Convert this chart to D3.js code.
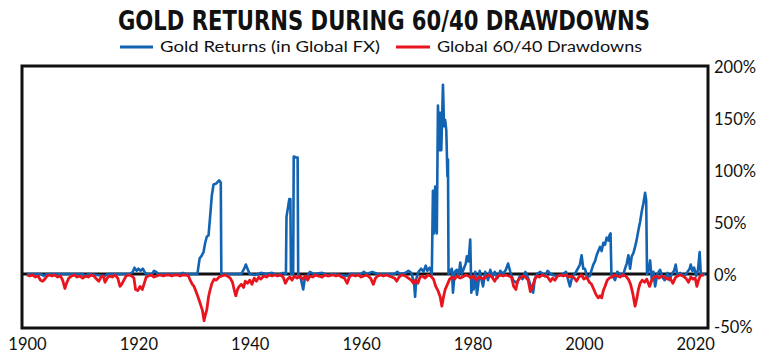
<!DOCTYPE html>
<html>
<head>
<meta charset="utf-8">
<script src="https://cdn.jsdelivr.net/npm/d3@7"></script>
<style>
  html, body { margin: 0; padding: 0; background: #fff; }
  svg { display: block; }
</style>
</head>
<body>
<svg id="chart" width="758" height="353"></svg>
<script>
// ---------- DATA ----------
const title = "GOLD RETURNS DURING 60/40 DRAWDOWNS";
const seriesNames = ["Gold Returns (in Global FX)", "Global 60/40 Drawdowns"];
const xTickYears = [1900, 1920, 1940, 1960, 1980, 2000, 2020];
const yTickValues = [-50, 0, 50, 100, 150, 200];

const goldDates = [
  1900.0,1902.5,1903.0,1903.5,1910.0,1910.5,1911.0,1914.0,1914.5,1918.5,
  1919.0,1919.3,1919.7,1920.0,1920.4,1920.8,1921.2,1921.5,1922.5,1922.8,
  1923.2,1923.5,1927.5,1928.0,1928.5,1930.6,1931.0,1931.3,1931.7,1932.0,
  1932.3,1932.6,1932.9,1933.2,1933.5,1934.0,1934.5,1934.8,1934.9,1938.5,
  1939.0,1939.3,1939.6,1940.0,1941.0,1942.0,1943.0,1944.0,1945.0,1946.0,
  1946.5,1946.6,1946.9,1947.1,1947.3,1947.4,1947.8,1947.9,1948.3,1948.6,
  1948.7,1949.2,1949.6,1949.9,1950.3,1950.8,1951.5,1953.0,1954.0,1955.0,
  1957.5,1958.0,1960.0,1960.5,1961.0,1962.0,1963.0,1966.0,1966.5,1967.0,
  1968.0,1968.5,1969.0,1969.5,1969.7,1969.9,1970.3,1970.8,1971.2,1971.6,
  1971.9,1972.3,1972.7,1972.9,1973.1,1973.3,1973.6,1973.8,1974.1,1974.2,
  1974.4,1974.7,1974.9,1975.1,1975.3,1975.5,1975.6,1975.7,1976.0,1976.3,
  1976.5,1976.8,1977.2,1977.5,1977.8,1978.1,1978.5,1978.8,1979.0,1979.3,
  1979.6,1979.8,1980.0,1980.2,1980.5,1980.8,1981.0,1981.3,1981.6,1981.9,
  1982.3,1982.8,1983.2,1983.6,1984.0,1984.5,1985.0,1985.5,1986.0,1986.4,
  1986.8,1987.3,1988.0,1988.5,1989.0,1989.5,1990.0,1990.5,1990.9,1991.2,
  1991.6,1992.2,1993.0,1993.5,1994.0,1995.0,1996.0,1996.8,1997.5,1997.9,
  1998.5,1999.3,1999.6,1999.9,2000.2,2000.6,2001.1,2001.4,2001.7,2002.0,
  2002.3,2002.6,2002.9,2003.2,2003.5,2003.8,2004.1,2004.4,2004.6,2004.8,
  2004.95,2005.6,2006.0,2006.5,2007.0,2007.4,2007.7,2008.0,2008.3,2008.6,
  2008.9,2009.2,2009.5,2009.8,2010.1,2010.4,2010.7,2011.0,2011.2,2011.35,
  2011.7,2011.9,2012.2,2012.5,2012.8,2013.2,2013.7,2014.1,2014.5,2015.0,
  2015.4,2015.8,2016.2,2016.5,2016.8,2017.3,2018.0,2018.5,2019.0,2019.2,
  2019.5,2019.8,2020.2,2020.5,2020.8,2021.0,2021.8
];
const goldReturns = [
  0,0,-2,0,0,-2,0,-2,0,0,
  2,6,3,5,3,5,1,0,0,3,
  2,0,0,1,0,0,15,17,21,30,
  36,37,56,76,86,87,90,88,0,0,
  5,9,5,0,-1,1,0,1,-1,1,
  0,55,65,72,72,0,0,113,112,112,
  0,-5,-15,-4,-2,2,0,1,-1,0,
  -2,0,0,2,0,2,0,0,2,0,
  1,3,1,-8,-22,-5,2,5,2,8,
  3,6,0,80,39,84,39,162,119,155,
  119,182,142,148,138,94,110,0,3,5,
  -18,2,4,-3,11,0,6,10,17,12,
  33,-18,-5,-15,2,-20,-12,3,-5,-12,
  2,-6,4,-3,2,-4,3,0,4,10,
  2,-6,-9,-2,-5,2,-4,-12,-18,-5,
  0,2,-2,3,0,-2,-1,2,-12,-3,
  1,9,18,5,5,-3,-2,4,9,12,
  18,22,26,22,30,28,35,32,37,39,
  0,-6,2,0,-2,5,10,18,5,17,
  20,26,33,42,50,60,68,78,71,0,
  5,13,-6,2,-12,0,4,-3,-6,1,
  -6,0,3,9,-2,1,-2,1,5,9,
  3,6,-2,4,21,0,0
];

const ddDates = [
  1900.0,1900.5,1901.0,1901.5,1902.0,1902.4,1902.8,1903.2,1903.6,1904.0,
  1904.5,1905.0,1905.5,1906.0,1906.4,1906.8,1907.1,1907.5,1908.0,1908.5,
  1909.0,1909.5,1910.0,1910.5,1911.0,1911.5,1912.0,1912.5,1912.9,1913.3,
  1913.7,1914.0,1914.4,1914.8,1915.3,1915.8,1916.3,1916.7,1917.0,1917.4,
  1917.8,1918.3,1918.8,1919.2,1919.5,1919.9,1920.3,1920.7,1921.0,1921.4,
  1921.8,1922.3,1922.8,1923.3,1923.8,1924.5,1925.0,1925.5,1926.0,1926.5,
  1927.0,1927.5,1928.0,1928.5,1929.0,1929.3,1929.7,1930.0,1930.5,1930.9,
  1931.2,1931.5,1931.8,1932.0,1932.3,1932.6,1932.9,1933.2,1933.6,1934.0,
  1934.5,1935.0,1935.5,1936.0,1936.5,1936.9,1937.2,1937.5,1937.8,1938.1,
  1938.5,1938.9,1939.2,1939.6,1940.0,1940.4,1940.8,1941.2,1941.6,1942.0,
  1942.5,1943.0,1943.5,1944.0,1944.5,1945.0,1945.5,1946.0,1946.4,1946.8,
  1947.2,1947.6,1948.0,1948.5,1949.0,1949.5,1950.0,1950.4,1950.8,1951.3,
  1951.8,1952.3,1953.0,1953.5,1954.0,1955.0,1955.5,1956.0,1956.5,1957.0,
  1957.5,1957.9,1958.3,1959.0,1959.5,1960.0,1960.5,1961.0,1961.7,1962.2,
  1962.6,1963.0,1963.5,1964.0,1964.5,1965.0,1965.5,1966.0,1966.4,1966.8,
  1967.3,1968.0,1968.5,1969.0,1969.4,1969.8,1970.2,1970.6,1971.0,1971.5,
  1972.0,1972.5,1973.0,1973.4,1973.8,1974.2,1974.5,1974.8,1975.1,1975.5,
  1975.9,1976.3,1976.8,1977.2,1977.8,1978.2,1978.8,1979.3,1979.7,1980.2,
  1980.7,1981.1,1981.6,1982.0,1982.5,1983.0,1983.5,1984.0,1984.4,1985.0,
  1985.5,1986.0,1986.5,1987.0,1987.4,1987.8,1988.1,1988.5,1989.0,1989.5,
  1990.0,1990.4,1990.8,1991.2,1991.6,1992.0,1992.5,1993.0,1993.5,1994.0,
  1994.4,1994.8,1995.3,1995.8,1996.3,1996.8,1997.3,1997.8,1998.3,1998.7,
  1999.1,1999.6,2000.0,2000.5,2001.0,2001.4,2001.8,2002.2,2002.6,2002.9,
  2003.2,2003.5,2003.8,2004.2,2004.6,2005.0,2005.5,2006.0,2006.5,2007.0,
  2007.5,2008.0,2008.4,2008.8,2009.2,2009.5,2009.8,2010.1,2010.5,2010.9,
  2011.3,2011.8,2012.2,2012.6,2013.0,2013.5,2014.0,2014.5,2015.0,2015.5,
  2016.0,2016.4,2016.8,2017.3,2017.8,2018.3,2018.8,2019.2,2019.6,2020.0,
  2020.3,2020.6,2020.9,2021.3,2021.6
];
const ddValues = [
  -1,-2,-1,-3,-2,-6,-7,-5,-2,-1,
  -2,-1,-3,-2,-6,-14,-9,-4,-2,-1,
  -3,-2,-4,-2,-3,-1,-2,-5,-7,-3,
  -2,-8,-4,-2,-3,-1,-4,-12,-10,-6,
  -2,-1,-2,-4,-15,-16,-12,-15,-10,-3,
  -2,-1,-3,-2,-1,-2,-1,-1,-2,-1,
  -1,-2,-1,-1,-2,-6,-10,-12,-19,-25,
  -30,-35,-45,-40,-34,-22,-15,-9,-5,-6,
  -3,-2,-1,-2,-4,-8,-15,-21,-15,-12,
  -10,-13,-7,-9,-6,-10,-4,-7,-3,-5,
  -2,-3,-1,-2,-1,-2,-1,-3,-9,-5,
  -3,-6,-2,-4,-2,-5,-2,-6,-2,-3,
  -1,-2,-3,-1,-2,-1,-2,-1,-3,-4,
  -9,-3,-1,-2,-1,-3,-2,-1,-4,-10,
  -4,-2,-1,-2,-1,-2,-3,-4,-7,-3,
  -1,-2,-4,-6,-9,-6,-9,-3,-2,-4,
  -1,-2,-5,-12,-16,-22,-31,-22,-15,-10,
  -5,-3,-5,-2,-4,-3,-1,-2,-4,-2,
  -6,-3,-4,-5,-2,-1,-3,-7,-3,-1,
  -2,-1,-2,-3,-12,-15,-7,-4,-2,-3,
  -6,-17,-12,-5,-2,-3,-1,-2,-3,-7,
  -4,-6,-2,-1,-2,-1,-3,-2,-4,-7,
  -3,-1,-5,-3,-8,-10,-15,-20,-23,-21,
  -23,-16,-12,-6,-4,-3,-1,-2,-3,-1,
  -2,-5,-10,-19,-31,-24,-15,-9,-6,-8,
  -5,-12,-6,-3,-2,-4,-2,-3,-5,-4,
  -9,-4,-2,-1,-2,-4,-8,-3,-5,-4,
  -12,-6,-2,-1,-1
];

// ---------- CHART ----------
const svg = d3.select("#chart");
const plotLeft = 22, plotRight = 708, plotTop = 66, plotBottom = 328;

const x = d3.scaleLinear().domain([1899.1, 2022.3]).range([plotLeft, plotRight]);
const y = d3.scaleLinear().domain([-52, 200]).range([plotBottom, plotTop]);

const blue = "#1363b3", red = "#e8141e";

// title
svg.append("text")
  .attr("x", 384).attr("y", 30)
  .attr("text-anchor", "middle")
  .attr("font-family", "'DejaVu Sans Condensed', 'DejaVu Sans', sans-serif")
  .attr("font-weight", "bold")
  .attr("font-size", 26)
  .attr("fill", "#111")
  .attr("textLength", 532)
  .attr("lengthAdjust", "spacingAndGlyphs")
  .text(title);

// legend
const legendItems = [
  {name: seriesNames[0], color: blue, x1: 120, x2: 153, tx: 160, tw: 220},
  {name: seriesNames[1], color: red,  x1: 396, x2: 430, tx: 437, tw: 205}
];
legendItems.forEach(l => {
  svg.append("line").attr("x1", l.x1).attr("x2", l.x2).attr("y1", 47).attr("y2", 47)
    .attr("stroke", l.color).attr("stroke-width", 3);
  svg.append("text").attr("x", l.tx).attr("y", 52)
    .attr("font-family", "Lato, 'Open Sans', sans-serif")
    .attr("font-size", 15.5).attr("fill", "#111")
    .attr("textLength", l.tw).attr("lengthAdjust", "spacingAndGlyphs")
    .text(l.name);
});

// zero line
svg.append("line")
  .attr("x1", plotLeft).attr("x2", plotRight)
  .attr("y1", y(0)).attr("y2", y(0))
  .attr("stroke", "#111").attr("stroke-width", 3);

const line = d3.line().x(d => x(d[0])).y(d => y(d[1]));
const goldData = goldDates.map((d, i) => [d, goldReturns[i]]);
const ddData = ddDates.map((d, i) => [d, ddValues[i]]);

svg.append("path").datum(goldData)
  .attr("d", line).attr("fill", "none")
  .attr("stroke", blue).attr("stroke-width", 2.6).attr("stroke-linejoin", "round");

svg.append("path").datum(ddData)
  .attr("d", line).attr("fill", "none")
  .attr("stroke", red).attr("stroke-width", 2.8).attr("stroke-linejoin", "round");

// frame
svg.append("rect")
  .attr("x", plotLeft).attr("y", plotTop)
  .attr("width", plotRight - plotLeft).attr("height", plotBottom - plotTop)
  .attr("fill", "none").attr("stroke", "#111").attr("stroke-width", 3);

// axes
const xAxis = d3.axisBottom(x).tickValues(xTickYears).tickSize(0).tickPadding(0)
  .tickFormat(d3.format("d"));
const gx = svg.append("g").attr("transform", `translate(0,${plotBottom + 6})`).call(xAxis);
gx.select(".domain").remove();
gx.selectAll("text")
  .attr("font-family", "Lato, 'Open Sans', sans-serif")
  .attr("font-size", 16.5).attr("fill", "#111").attr("dy", "0.95em");

const yAxis = d3.axisRight(y).tickValues(yTickValues).tickSize(0).tickPadding(0)
  .tickFormat(d => d + "%");
const gy = svg.append("g").attr("transform", `translate(${plotRight + 6},1)`).call(yAxis);
gy.select(".domain").remove();
gy.selectAll("text")
  .attr("font-family", "Lato, 'Open Sans', sans-serif")
  .attr("font-size", 16.5).attr("fill", "#111");
</script>
</body>
</html>
